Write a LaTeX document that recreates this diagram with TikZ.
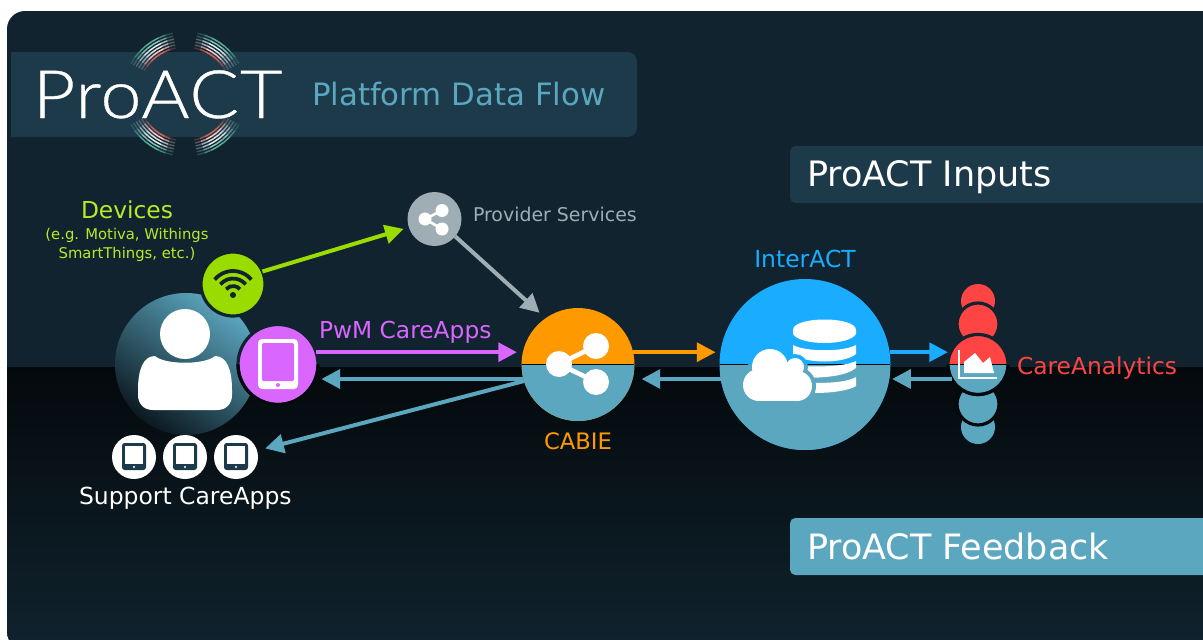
\documentclass[tikz,border=0pt]{standalone}
\usepackage{fontspec}
\usetikzlibrary{arrows.meta,calc}
\setmainfont{DejaVu Sans}
\newfontfamily\logofont[UprightFont=* Light,FakeStretch=1.1,FakeBold=0.6,LetterSpace=1.5]{Lato}
\definecolor{bgtop}{HTML}{10232E}
\definecolor{bgband}{HTML}{04090C}
\definecolor{panel}{HTML}{1C3A49}
\definecolor{fb}{HTML}{5CA7C0}
\definecolor{grn}{HTML}{9BDC00}
\definecolor{grntx}{HTML}{B8EA2A}
\definecolor{pur}{HTML}{D966FF}
\definecolor{org}{HTML}{FF9900}
\definecolor{sky}{HTML}{1AACFF}
\definecolor{rd}{HTML}{FF4444}
\definecolor{gry}{HTML}{9FAEB5}
\definecolor{teal}{HTML}{5AB0A0}
\definecolor{coral}{HTML}{E0604F}
\tikzset{
 disc/.style={circle,inner sep=0pt,outer sep=0pt,minimum size=1.5pt*#1},
 halved/.style={path picture={
   \fill[fb] (path picture bounding box.west) rectangle (path picture bounding box.south east);
   \draw[bgband,line width=.9pt] (path picture bounding box.west) -- (path picture bounding box.east);}},
 halo/.style={draw=bgtop,line width=2.4pt},
 halolow/.style={bgband,line width=2.4pt},
 flow/.style={line width=3pt,-{Triangle[length=14pt,width=14pt]}},
 lbl/.style={anchor=base west,inner sep=0pt,outer sep=0pt},
 lblc/.style={anchor=base,inner sep=0pt,outer sep=0pt,align=center},
}
\begin{document}
\begin{tikzpicture}[x=0.75pt,y=-0.75pt]
\useasboundingbox (0,0) rectangle (1203,639);
\fill[white] (0,0) rectangle (1203,639);
\begin{scope}
 \clip[rounded corners=13.5pt] (7,11) rectangle (1260,650);
 \fill[bgtop] (0,0) rectangle (1260,367);
 \shade[top color=bgband,bottom color=bgtop] (0,367) rectangle (1260,650);
\end{scope}
\coordinate (rowA) at (0,352.2);
\coordinate (rowB) at (0,379);
% panels
\begin{scope}
 \clip (11,40) rectangle (700,150);
 \fill[panel,rounded corners=7pt] (-20,52) rectangle (637,137);
\end{scope}
\fill[panel,rounded corners=4pt] (790,146) rectangle (1240,203);
\fill[fb,rounded corners=4pt] (790,518) rectangle (1240,575);
\node[lbl,text=white,font=\fontsize{26.25}{27}\selectfont] (inp) at (807,186) {ProACT Inputs};
\node[lbl,text=white,font=\fontsize{26.2}{27}\selectfont] (fbk) at (807,559) {ProACT Feedback};
\node[lbl,text=fb,font=\fontsize{23.1}{24}\selectfont] (pdf) at (312,105) {Platform Data Flow};
% logo arcs
\foreach \sx/\sy in {1/1,1/-1,-1/1,-1/-1}{
 \foreach \r/\c in {62/teal,59/teal!70!white,56/white!85!teal,53/white!80!gray,50/white!70!coral,47/coral}{
  \foreach \a/\o in {105/.3,112/.7,119/1,126/1,133/.9,140/.6,147/.25}{
   \draw[\c,line width=1.1pt,opacity=\o]
     ({185+\sx*\r*cos(\a-3.5)},{94-\sy*\r*sin(\a-3.5)}) -- ({185+\sx*\r*cos(\a+3.5)},{94-\sy*\r*sin(\a+3.5)});
  }}}
\node[lbl,text=white,font=\logofont\fontsize{50}{50}\selectfont] (logo) at (33,118) {ProACT};
% user
\node[disc=71,top color=fb,bottom color=bgtop!70!black,shading angle=-35] (user) at (186,364) {};
\fill[white] (185,334) circle[radius=25];
\fill[white] (153,410) .. controls (143,410) and (138,403) .. (138,395) -- (138,390)
  .. controls (138,370) and (143,356) .. (155,356)
  .. controls (165,365) and (205,365) .. (215,356)
  .. controls (227,356) and (232,370) .. (232,390) -- (232,395)
  .. controls (232,403) and (227,410) .. (217,410) -- cycle;
% wifi
\node[disc=32,fill=grn,halo] (wifi) at (233,284) {};
\foreach \r in {24,16.5,9}{
 \draw[bgtop,line width=2.8pt] ({233+\r*cos(220)},{295+\r*sin(220)}) arc[start angle=220,end angle=320,radius=\r];}
\fill[bgtop] (233,295) circle[radius=3];
% tablet
\node[disc=40,fill=pur,halo] (tablet) at (278,364.5) {};
\draw[halolow] (tablet.west) arc[start angle=180,end angle=0,radius=40];
\fill[white,rounded corners=3pt] (258,339) rectangle (298,389);
\fill[pur,rounded corners=1pt] (262,343) rectangle (294,381);
\fill[pur] (278,385) circle[radius=2];
% support
\foreach \n/\x in {s1/134,s2/185,s3/236}{
 \node[disc=22,fill=white] (\n) at (\x,457) {};
 \fill[panel,rounded corners=2pt] (\x-12,443) rectangle (\x+12,470);
 \fill[white] (\x-9,446) rectangle (\x+9,464);
 \fill[white] (\x,467) circle[radius=1.2];
}
% provider
\node[disc=27,fill=gry] (prov) at (434.5,219) {};
\draw[white,line width=2pt] (442,210.5) -- (425,219) -- (442,229);
\foreach \x/\y in {442/210.5,425/219,442/229}{\fill[white] (\x,\y) circle[radius=6.5];}
% CABIE
\node[disc=56.5,fill=org,halved] (cabie) at (578,364.5) {};
\draw[white,line width=3.5pt] (596,346) -- (559,364) -- (596,382);
\foreach \x/\y in {596/346,559/364,596/382}{\fill[white] (\x,\y) circle[radius=13];}
% InterACT
\node[disc=85.5,fill=sky,halved] (inter) at (805,364.5) {};
\fill[white] (793,330) -- (793,334) .. controls (800,346) and (849,346) .. (856,334) -- (856,330) .. controls (856,316) and (793,316) .. (793,330) -- cycle;
\fill[white] (793,345) .. controls (805,352) and (844,352) .. (856,345) -- (856,354) .. controls (844,364) and (805,364) .. (793,354) -- cycle;
\fill[white] (800,366) .. controls (815,367) and (844,367) .. (856,361) -- (856,368) .. controls (846,376) and (825,378) .. (800,378) -- cycle;
\fill[white] (815,383) .. controls (830,383) and (848,382) .. (856,377) -- (856,386) .. controls (848,391) and (830,393) .. (815,393) -- cycle;
% cloud outline (two halves) and cloud
\foreach \c/\ya/\yb in {sky/300/365,fb/365/420}{
 \begin{scope}
 \clip (730,\ya) rectangle (830,\yb);
 \fill[\c] (770,367) circle[radius=22]; \fill[\c] (795,367) circle[radius=13];
 \fill[\c] (797,386) circle[radius=19]; \fill[\c] (759,385) circle[radius=20];
 \end{scope}}
\fill[white] (770,367) circle[radius=18]; \fill[white] (795,367) circle[radius=9];
\fill[white] (797,386) circle[radius=15]; \fill[white] (759,385) circle[radius=16];
\fill[white] (759,372) rectangle (797,401);
% CareAnalytics stack
\node[disc=17,fill=rd] (c5) at (978,301) {};
\node[disc=17,fill=fb] (c1) at (978,427) {};
\node[disc=21,fill=rd,halo] (c4) at (978,324) {};
\node[disc=21,fill=fb,draw=bgband,line width=2.4pt] (c2) at (978,404) {};
\node[disc=30,fill=rd,halved,halo] (care) at (978,364.5) {};
\draw[halolow] (care.west) arc[start angle=180,end angle=0,radius=30];
\fill[white] (964,373) -- (964,362) -- (975,353) -- (983,363) -- (990,357) -- (994,373) -- cycle;
\draw[white,line width=1.4pt] (959,350) -- (959,378) -- (997,378);
% connectors
\draw[flow,grn,shorten >=4pt] (wifi.23.4) -- (prov.198);
\draw[flow,gry,shorten >=6pt] (prov.-40) -- (cabie.125);
\draw[flow,pur,shorten >=4.5pt] (tablet.17.6 |- rowA) -- (cabie.167.63 |- rowA);
\draw[flow,fb,shorten >=4.5pt] (cabie.194.87 |- rowB) -- (tablet.-21.25 |- rowB);
\draw[flow,fb,shorten >=6.3pt] (cabie.197) -- (s3.17);
\draw[flow,org,shorten >=3.75pt] (cabie.12.37 |- rowA) -- (inter.171.865 |- rowA);
\draw[flow,fb,shorten >=6.75pt] (inter.189.76 |- rowB) -- (cabie.345.13 |- rowB);
\draw[flow,sky,shorten >=2pt] (inter.8.135 |- rowA) -- (care.156.21 |- rowA);
\draw[flow,fb,shorten >=2pt] (care.208.9 |- rowB) -- (inter.-9.76 |- rowB);
% labels
\node[lblc,text=grntx,font=\fontsize{17.5}{18}\selectfont] (devt) at (127,218) {Devices};
\node[lblc,text=grntx,font=\fontsize{11.1}{14.25}\selectfont] (devs) at (127,258) {(e.g. Motiva, Withings\\SmartThings, etc.)};
\node[lbl,text=gry,font=\fontsize{14.2}{15}\selectfont] (provt) at (473,221) {Provider Services};
\node[lblc,text=sky,font=\fontsize{17.6}{18}\selectfont] (intt) at (805,267) {InterACT};
\node[lbl,text=pur,font=\fontsize{17.5}{18}\selectfont] (pwm) at (319,338) {PwM CareApps};
\node[lblc,text=org,font=\fontsize{17}{17}\selectfont] (cabt) at (578,449) {CABIE};
\node[lbl,text=white,font=\fontsize{17.6}{18}\selectfont] (supt) at (79,504) {Support CareApps};
\node[lbl,text=rd,font=\fontsize{17.5}{18}\selectfont] (cat) at (1017,374) {CareAnalytics};
\end{tikzpicture}
\end{document}
